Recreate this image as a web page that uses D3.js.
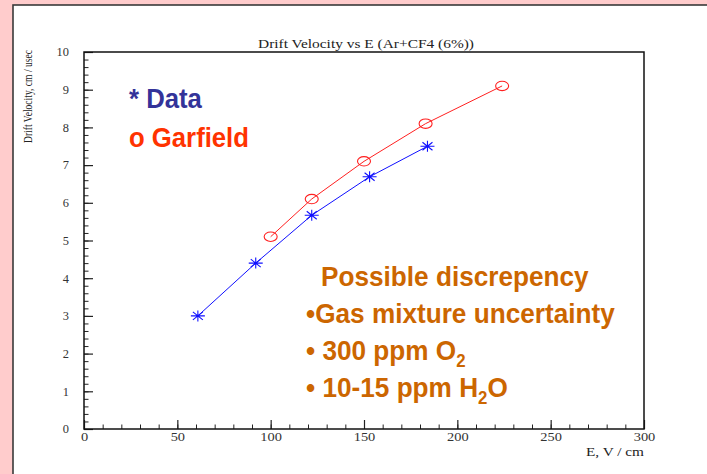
<!DOCTYPE html>
<html>
<head>
<meta charset="utf-8">
<script src="https://cdn.jsdelivr.net/npm/d3@7"></script>
<style>
  html, body { margin: 0; padding: 0; background: #ffcccc; }
  svg { display: block; }
</style>
</head>
<body>
<svg id="chart" width="707" height="474"></svg>
<script>
// Drift velocity measurements vs. Garfield simulation, Ar+CF4 (6%)
const fieldData = [61, 92, 122, 153, 184];          // E, V/cm (measured)
const velocityData = [3.0, 4.4, 5.67, 6.69, 7.5];   // cm/usec (measured)
const fieldGarfield = [100, 122, 150, 183, 224];    // E, V/cm (simulation)
const velocityGarfield = [5.1, 6.1, 7.1, 8.1, 9.1]; // cm/usec (simulation)

const xTicks = [0, 50, 100, 150, 200, 250, 300];
const yTicks = [0, 1, 2, 3, 4, 5, 6, 7, 8, 9, 10];

const titleText = "Drift Velocity vs E  (Ar+CF4 (6%))";
const xTitle = "E, V / cm";
const yTitle = "Drift Velocity, cm / usec";

const svg = d3.select("#chart");
const W = 707, H = 474;

// slide background and white panel
svg.append("rect").attr("x", 0).attr("y", 0).attr("width", W).attr("height", H).attr("fill", "#ffcccc");
svg.append("rect").attr("x", 13).attr("y", 5).attr("width", W).attr("height", H)
  .attr("fill", "#ffffff").attr("stroke", "#3a3a3a").attr("stroke-width", 1.6);

const plot = { left: 84, right: 644, top: 52, bottom: 429 };

const x = d3.scaleLinear().domain([0, 300]).range([plot.left, plot.right]);
const y = d3.scaleLinear().domain([0, 10]).range([plot.bottom, plot.top]);

const serif = "'Liberation Serif', 'Times New Roman', serif";
const sans = "'Liberation Sans', Arial, sans-serif";

// minor ticks (inside the frame)
svg.append("g").attr("transform", `translate(0,${plot.bottom})`)
  .call(d3.axisBottom(x).tickValues(d3.range(0, 301, 10)).tickSizeInner(-4.5).tickSizeOuter(0).tickFormat(""))
  .call(g => g.select(".domain").remove())
  .call(g => g.selectAll("line").attr("stroke", "#222").attr("stroke-width", 1));
svg.append("g").attr("transform", `translate(${plot.left},0)`)
  .call(d3.axisLeft(y).tickValues(d3.range(0, 10.001, 0.2)).tickSizeInner(-4.5).tickSizeOuter(0).tickFormat(""))
  .call(g => g.select(".domain").remove())
  .call(g => g.selectAll("line").attr("stroke", "#222").attr("stroke-width", 1));

// major ticks and labels
svg.append("g").attr("transform", `translate(0,${plot.bottom})`)
  .call(d3.axisBottom(x).tickValues(xTicks).tickSizeInner(-9).tickSizeOuter(0).tickPadding(3).tickFormat(d3.format("d")))
  .call(g => g.select(".domain").remove())
  .call(g => g.selectAll("line").attr("stroke", "#222").attr("stroke-width", 1.2))
  .call(g => g.selectAll("text")
    .attr("font-family", serif).attr("font-size", 12).attr("fill", "#333")
    .attr("textLength", d => String(d).length * 7.2).attr("lengthAdjust", "spacingAndGlyphs"));

svg.append("g").attr("transform", `translate(${plot.left},0)`)
  .call(d3.axisLeft(y).tickValues(yTicks).tickSizeInner(-9).tickSizeOuter(0).tickPadding(15).tickFormat(d3.format("d")))
  .call(g => g.select(".domain").remove())
  .call(g => g.selectAll("line").attr("stroke", "#222").attr("stroke-width", 1.2))
  .call(g => g.selectAll("text")
    .attr("font-family", serif).attr("font-size", 12).attr("fill", "#333")
    .attr("textLength", d => String(d).length * 6.2).attr("lengthAdjust", "spacingAndGlyphs"));

// frame
svg.append("rect").attr("x", plot.left).attr("y", plot.top)
  .attr("width", plot.right - plot.left).attr("height", plot.bottom - plot.top)
  .attr("fill", "none").attr("stroke", "#111").attr("stroke-width", 1.5);

// titles
svg.append("text").attr("x", 366).attr("y", 48).attr("text-anchor", "middle")
  .attr("font-family", serif).attr("font-size", 12.5).attr("fill", "#222")
  .attr("textLength", 216).attr("lengthAdjust", "spacingAndGlyphs")
  .text(titleText);
svg.append("text").attr("x", 644).attr("y", 456).attr("text-anchor", "end")
  .attr("font-family", serif).attr("font-size", 12).attr("fill", "#222")
  .attr("textLength", 58).attr("lengthAdjust", "spacingAndGlyphs")
  .text(xTitle);
svg.append("text").attr("transform", "translate(32,50) rotate(-90)").attr("text-anchor", "end")
  .attr("font-family", serif).attr("font-size", 12).attr("fill", "#222")
  .attr("textLength", 93).attr("lengthAdjust", "spacingAndGlyphs")
  .text(yTitle);

// series
const dataPts = fieldData.map((e, i) => [e, velocityData[i]]);
const garPts = fieldGarfield.map((e, i) => [e, velocityGarfield[i]]);
const line = d3.line().x(d => x(d[0])).y(d => y(d[1]));

svg.append("path").datum(garPts).attr("d", line)
  .attr("fill", "none").attr("stroke", "#ff2020").attr("stroke-width", 1);
svg.append("path").datum(dataPts).attr("d", line)
  .attr("fill", "none").attr("stroke", "#1010ff").attr("stroke-width", 1);

// open ellipse markers (simulation)
svg.append("g").selectAll("ellipse").data(garPts).join("ellipse")
  .attr("cx", d => x(d[0])).attr("cy", d => y(d[1]))
  .attr("rx", 6.5).attr("ry", 4.7)
  .attr("fill", "none").attr("stroke", "#ff2020").attr("stroke-width", 1.1);

// asterisk markers (measurement)
const star = "M-7,0H7M0,-5.5V5.5M-5,-4L5,4M-5,4L5,-4";
svg.append("g").selectAll("path").data(dataPts).join("path")
  .attr("transform", d => `translate(${x(d[0])},${y(d[1])})`)
  .attr("d", star)
  .attr("fill", "none").attr("stroke", "#1010ff").attr("stroke-width", 1.1);

// slide text: slightly condensed bold sans
const squeeze = 0.935;
function slideText(px, py, size, color) {
  return svg.append("text")
    .attr("transform", `translate(${px},${py}) scale(${squeeze},1)`)
    .attr("font-family", sans).attr("font-weight", "bold")
    .attr("font-size", size).attr("fill", color);
}

// legend
slideText(129, 108, 27.5, "#333399").text("* Data");
slideText(129, 147, 27.5, "#ff3300").text("o Garfield");

// annotation
const orange = "#cc6600";
slideText(321, 286, 28, orange).text("Possible discrepency");
slideText(306, 323, 28, orange).text("\u2022Gas mixture uncertainty");
const l3 = slideText(306, 360, 28, orange);
l3.append("tspan").text("\u2022 300 ppm O");
l3.append("tspan").attr("font-size", 18).attr("dy", 7).text("2");
const l4 = slideText(306, 397, 28, orange);
l4.append("tspan").text("\u2022 10-15 ppm H");
l4.append("tspan").attr("font-size", 18).attr("dy", 7).text("2");
l4.append("tspan").attr("dy", -7).text("O");
</script>
</body>
</html>
